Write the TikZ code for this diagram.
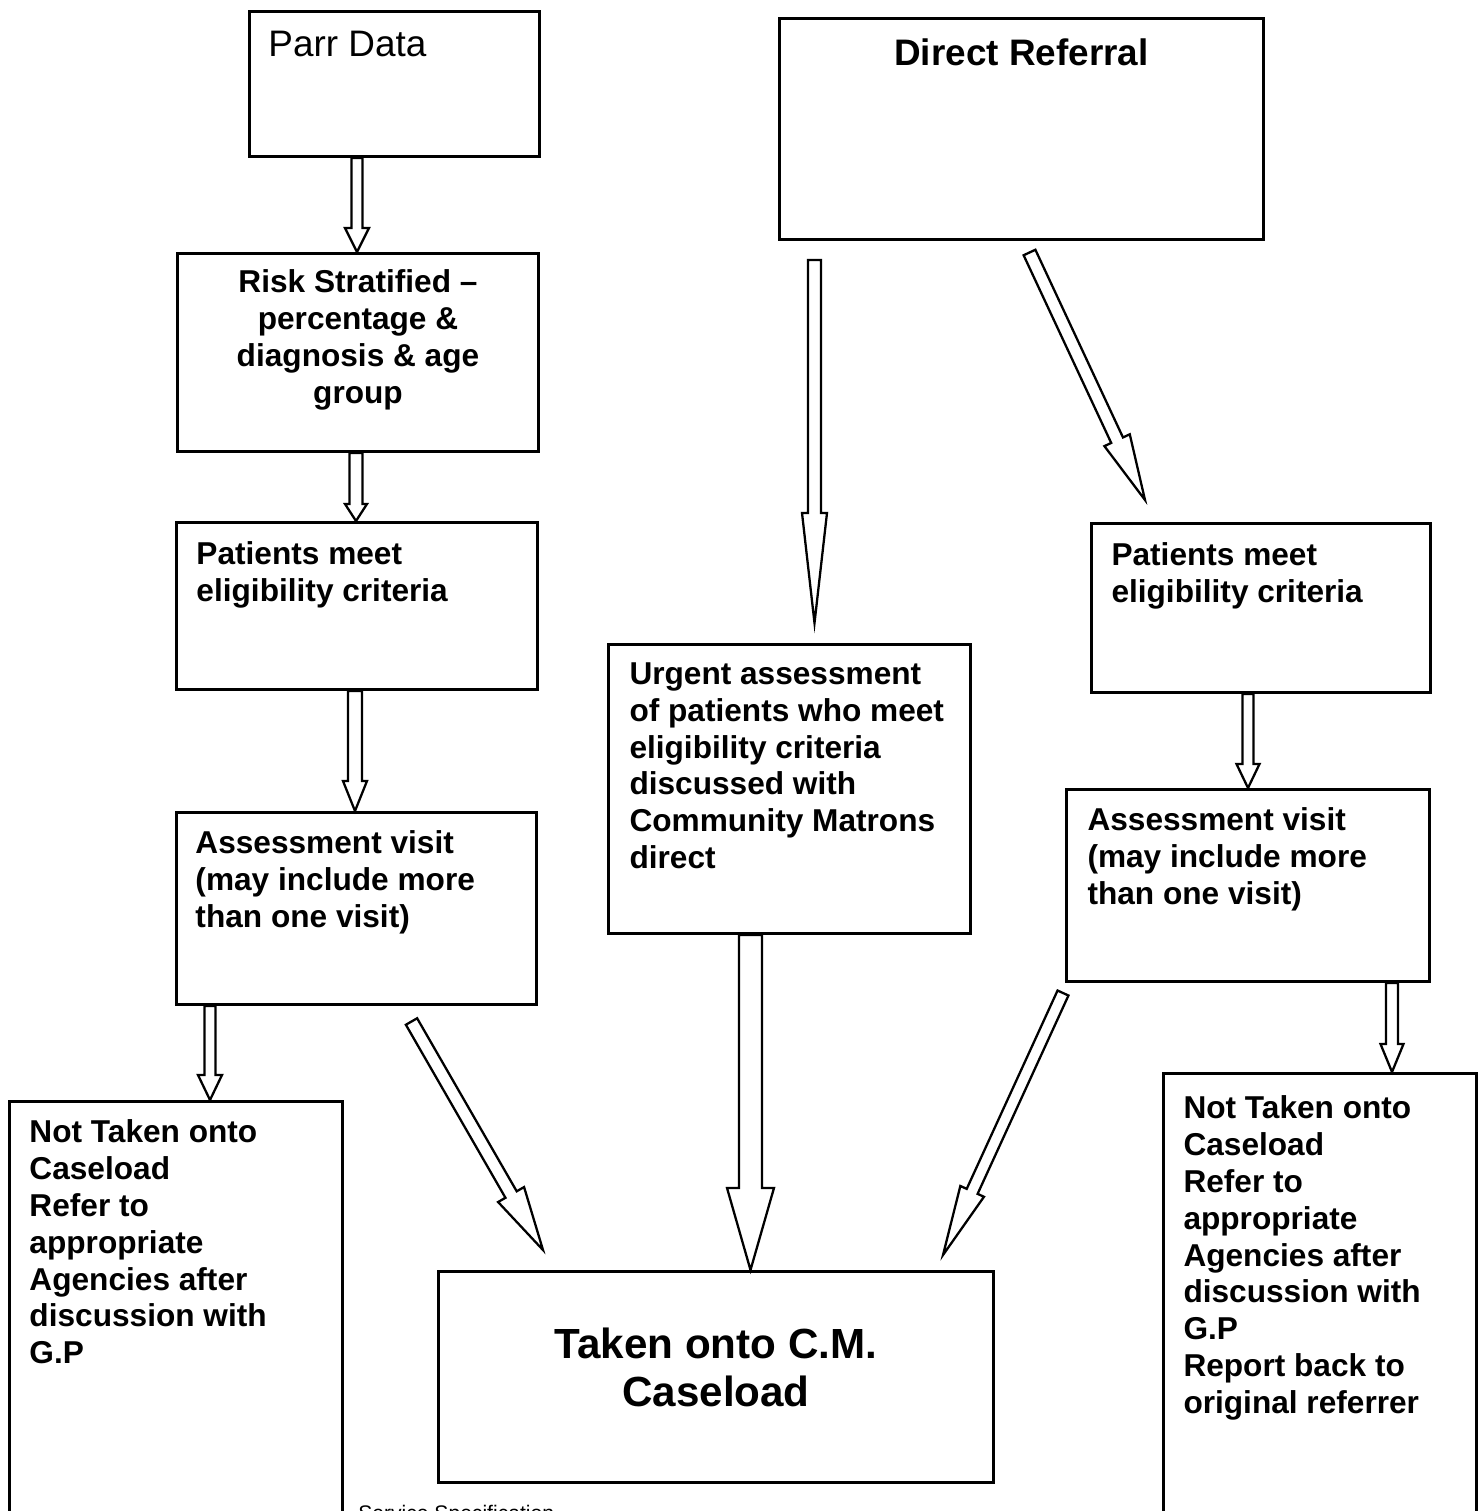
\documentclass[tikz,border=0pt]{standalone}
\usepackage{fontspec}
\setmainfont{Liberation Sans}
\usetikzlibrary{calc}
\newlength\pxu \setlength\pxu{0.02cm}
% left-aligned box text: width, height, left pad, top pad, text
\newcommand\lbt[5]{\parbox[t][#2\pxu][t]{#1\pxu}{\raggedright\leftskip=#3\pxu\relax\vspace*{#4\pxu}#5}}
% centred box text: width, height, top pad, text
\newcommand\cbt[4]{\parbox[t][#2\pxu][t]{#1\pxu}{\centering\vspace*{#3\pxu}#4}}
% hollow block arrow: tail, tip, shaft width, head width, head length (px)
\newcommand\barrow[5]{%
  \path ($(#2)!{#5*0.02cm}!(#1)$) coordinate (bh);
  \draw[blockarr] ($(#1)!{#3*0.01cm}!90:(#2)$) -- ($(bh)!{#3*0.01cm}!90:(#2)$)
    -- ($(bh)!{#4*0.01cm}!90:(#2)$) -- (#2) -- ($(bh)!{#4*0.01cm}!-90:(#2)$)
    -- ($(bh)!{#3*0.01cm}!-90:(#2)$) -- ($(#1)!{#3*0.01cm}!-90:(#2)$) -- cycle;}
\tikzset{
  box/.style={draw, line width=1.7pt, inner sep=0pt, anchor=north west,
    font=\fontsize{18}{21}\selectfont\bfseries},
  blockarr/.style={draw, line width=1.3pt, line join=miter, fill=white},
}
\begin{document}
\begin{tikzpicture}[x=0.02cm, y=-0.02cm]
\useasboundingbox (0,0) rectangle (1483,1511);
\clip (0,0) rectangle (1483,1511);

% boxes
\node[box, font=\fontsize{21}{24}\selectfont] (parr) at (248,10)
  {\lbt{290}{145}{19}{20}{Parr Data}};
\node[box, font=\fontsize{21}{24}\selectfont\bfseries] (direct) at (778,17)
  {\cbt{484}{221}{20}{Direct Referral}};
\node[box] (risk) at (176,252)
  {\cbt{361}{198}{16}{Risk Stratified –\\ percentage \&\\ diagnosis \& age\\ group}};
\node[box] (patL) at (175,521)
  {\lbt{361}{167}{20}{19}{Patients meet\\ eligibility criteria}};
\node[box] (assL) at (175,811)
  {\lbt{360}{192}{19}{18}{Assessment visit\\ (may include more\\ than one visit)}};
\node[box] (notL) at (8,1100)
  {\lbt{333}{440}{20}{18}{Not Taken onto\\ Caseload\\ Refer to\\ appropriate\\ Agencies after\\ discussion with\\ G.P}};
\node[box] (urg) at (607,643)
  {\lbt{362}{289}{21}{18}{Urgent assessment\\ of patients who meet\\ eligibility criteria\\ discussed with\\ Community Matrons\\ direct}};
\node[box] (patR) at (1090,522)
  {\lbt{339}{169}{20}{19}{Patients meet\\ eligibility criteria}};
\node[box] (assR) at (1065,788)
  {\lbt{363}{192}{21}{18}{Assessment visit\\ (may include more\\ than one visit)}};
\node[box] (notR) at (1162,1072)
  {\lbt{313}{470}{20}{22}{Not Taken onto\\ Caseload\\ Refer to\\ appropriate\\ Agencies after\\ discussion with\\ G.P\\ Report back to\\ original referrer}};
\node[box, font=\fontsize{24}{27.8}\selectfont\bfseries] (taken) at (437,1270)
  {\cbt{555}{211}{56}{Taken onto C.M.\\ Caseload}};

% arrow end points
\coordinate (a1t) at (parr.south -| 357,0);  \coordinate (a1h) at (risk.north -| 357,0);
\coordinate (a2t) at (risk.south -| 356,0);  \coordinate (a2h) at (patL.north -| 356,0);
\coordinate (a3t) at (patL.south -| 355,0);  \coordinate (a3h) at (assL.north -| 355,0);
\coordinate (a4t) at (assL.south -| 210,0);  \coordinate (a4h) at (notL.north -| 210,0);
\coordinate (a5t) at (411.5,1021.5);         \coordinate (a5h) at (543,1250);
\coordinate (a6t) at (814.5,260);            \coordinate (a6h) at (814.5,623);
\coordinate (a7t) at (1029.5,252.5);         \coordinate (a7h) at (1145,500);
\coordinate (a8t) at (urg.south -| 750.5,0); \coordinate (a8h) at (taken.north -| 750.5,0);
\coordinate (a9t) at (1063,993);             \coordinate (a9h) at (943,1255);
\coordinate (a10t) at (patR.south -| 1248,0); \coordinate (a10h) at (assR.north -| 1248,0);
\coordinate (a11t) at (assR.south -| 1392,0); \coordinate (a11h) at (notR.north -| 1392,0);

% arrows
\barrow{a1t}{a1h}{11}{24}{24}
\barrow{a2t}{a2h}{13}{22}{17}
\barrow{a3t}{a3h}{14}{24}{30}
\barrow{a4t}{a4h}{11}{24}{25}
\barrow{a5t}{a5h}{13}{30}{64}
\barrow{a6t}{a6h}{13}{25}{110}
\barrow{a7t}{a7h}{13}{28}{66}
\barrow{a8t}{a8h}{23}{47}{82}
\barrow{a9t}{a9h}{12}{26}{70}
\barrow{a10t}{a10h}{11}{23}{24}
\barrow{a11t}{a11h}{12}{23}{28}

% footer (cut off at page edge, as in the reference)
\node[font=\fontsize{12}{14}\selectfont, anchor=base west, inner sep=0pt] (foot) at (358,1520) {Service Specification};
\end{tikzpicture}
\end{document}
